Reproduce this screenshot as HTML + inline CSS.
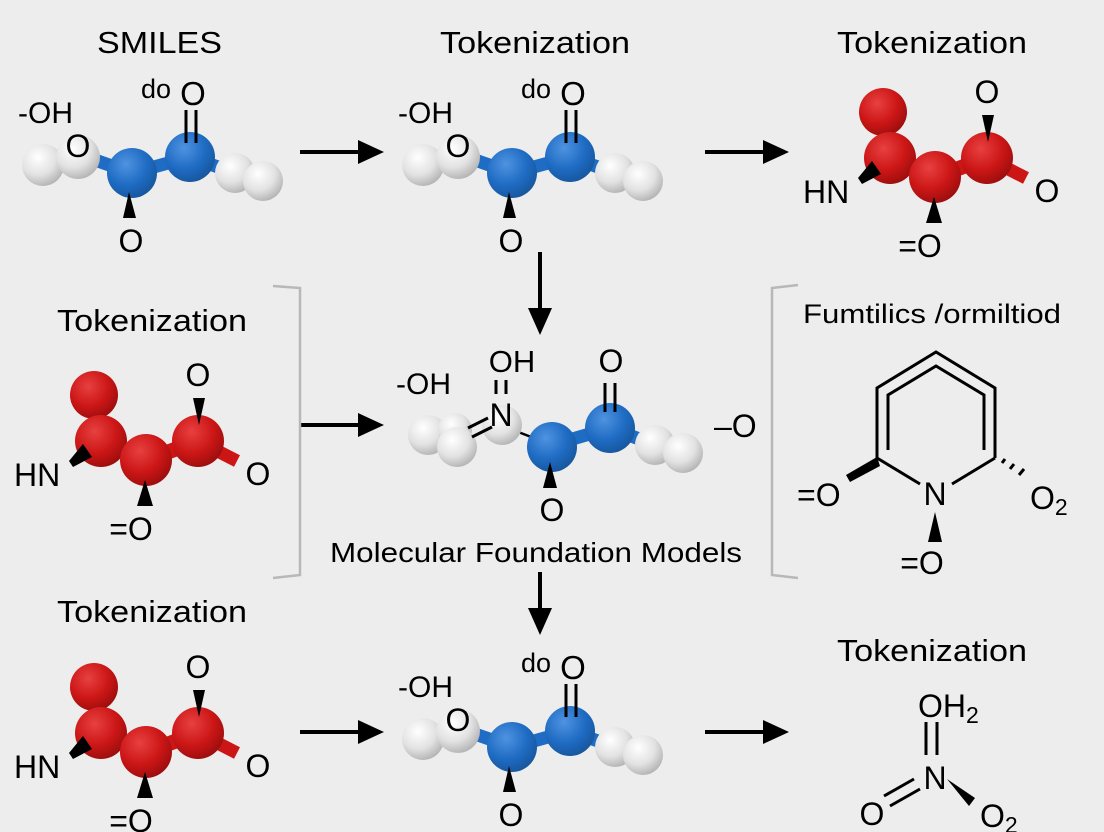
<!DOCTYPE html>
<html><head><meta charset="utf-8"><style>
html,body{margin:0;padding:0;background:#ededed;}
svg{display:block;}
text{font-family:"Liberation Sans",sans-serif;fill:#000;}
</style></head><body>
<svg width="1104" height="832" viewBox="0 0 1104 832" xmlns="http://www.w3.org/2000/svg">
<defs>
<radialGradient id="gb" cx="0.38" cy="0.32" r="0.7"><stop offset="0" stop-color="#4f93e0"/><stop offset="0.6" stop-color="#1f6cc4"/><stop offset="1" stop-color="#17579f"/></radialGradient>
<radialGradient id="gw" cx="0.38" cy="0.32" r="0.7"><stop offset="0" stop-color="#ffffff"/><stop offset="0.6" stop-color="#e2e2e2"/><stop offset="1" stop-color="#b5b5b5"/></radialGradient>
<radialGradient id="gr" cx="0.38" cy="0.32" r="0.7"><stop offset="0" stop-color="#e84040"/><stop offset="0.6" stop-color="#cc1616"/><stop offset="1" stop-color="#9e0e0e"/></radialGradient>
<g id="blue">
  <line x1="95" y1="160" x2="132" y2="173" stroke="#1f6cc4" stroke-width="13"/>
  <line x1="132" y1="173" x2="190" y2="157" stroke="#1f6cc4" stroke-width="13"/>
  <line x1="190" y1="157" x2="232" y2="172" stroke="#1f6cc4" stroke-width="13"/>
  <circle cx="43" cy="165" r="21" fill="url(#gw)"/>
  <circle cx="78" cy="157" r="22" fill="url(#gw)"/>
  <circle cx="132" cy="173" r="25" fill="url(#gb)"/>
  <circle cx="190" cy="157" r="25" fill="url(#gb)"/>
  <circle cx="235" cy="173" r="20" fill="url(#gw)"/>
  <circle cx="263" cy="181" r="20" fill="url(#gw)"/>
  <text x="78" y="157" font-size="32" text-anchor="middle">O</text>
  <polygon points="129,192 123,218 136,218" fill="#000"/>
  <text x="131" y="252" font-size="32" text-anchor="middle">O</text>
  <line x1="186" y1="110" x2="186" y2="143" stroke="#000" stroke-width="3"/>
  <line x1="196" y1="110" x2="196" y2="143" stroke="#000" stroke-width="3"/>
  <text x="141" y="98" font-size="27">do</text>
  <text x="193" y="105" font-size="33" text-anchor="middle">O</text>
  <text x="18" y="123" font-size="30">-OH</text>
</g>
<g id="red">
  <line x1="935" y1="177" x2="987" y2="158" stroke="#cc1616" stroke-width="15"/>
  <line x1="987" y1="158" x2="1026" y2="178" stroke="#cc1616" stroke-width="13"/>
  <circle cx="883" cy="112" r="24" fill="url(#gr)"/>
  <circle cx="890" cy="158" r="26" fill="url(#gr)"/>
  <circle cx="935" cy="177" r="26" fill="url(#gr)"/>
  <circle cx="987" cy="158" r="26" fill="url(#gr)"/>
  <polygon points="872,161 881,174 862,184 858,178" fill="#000"/>
  <text x="803" y="203" font-size="32">HN</text>
  <polygon points="982,115 994,115 988,142" fill="#000"/>
  <text x="987" y="103" font-size="32" text-anchor="middle">O</text>
  <polygon points="934,197 926,223 942,223" fill="#000"/>
  <text x="920" y="257" font-size="32" text-anchor="middle">=O</text>
  <text x="1047" y="202" font-size="32" text-anchor="middle">O</text>
</g>
</defs>

<!-- titles -->
<text x="97" y="53" font-size="31" textLength="125" lengthAdjust="spacingAndGlyphs">SMILES</text>
<text x="440" y="53" font-size="31" textLength="190" lengthAdjust="spacingAndGlyphs">Tokenization</text>
<text x="837" y="53" font-size="31" textLength="190" lengthAdjust="spacingAndGlyphs">Tokenization</text>
<text x="57" y="331" font-size="31" textLength="190" lengthAdjust="spacingAndGlyphs">Tokenization</text>
<text x="57" y="622" font-size="31" textLength="190" lengthAdjust="spacingAndGlyphs">Tokenization</text>
<text x="837" y="661" font-size="31" textLength="190" lengthAdjust="spacingAndGlyphs">Tokenization</text>
<text x="803" y="323" font-size="27" textLength="258" lengthAdjust="spacingAndGlyphs">Fumtilics /ormiltiod</text>
<text x="330" y="562" font-size="28" textLength="412" lengthAdjust="spacingAndGlyphs">Molecular Foundation Models</text>

<!-- molecules -->
<use href="#blue"/>
<use href="#blue" transform="translate(380,0)"/>
<use href="#blue" transform="translate(380,574)"/>
<use href="#red"/>
<use href="#red" transform="translate(-789,283)"/>
<use href="#red" transform="translate(-789,575)"/>

<!-- middle molecule -->
<g>
  <line x1="500" y1="425" x2="552" y2="445" stroke="#000" stroke-width="2.5"/>
  <line x1="552" y1="445" x2="610" y2="428" stroke="#1f6cc4" stroke-width="13"/>
  <line x1="610" y1="428" x2="650" y2="443" stroke="#1f6cc4" stroke-width="13"/>
  <circle cx="428" cy="435" r="20" fill="url(#gw)"/>
  <circle cx="455" cy="430" r="17" fill="url(#gw)"/>
  <circle cx="457" cy="447" r="20" fill="url(#gw)"/>
  <circle cx="502" cy="425" r="20" fill="url(#gw)"/>
  <circle cx="552" cy="447" r="25" fill="url(#gb)"/>
  <circle cx="610" cy="428" r="25" fill="url(#gb)"/>
  <circle cx="655" cy="445" r="20" fill="url(#gw)"/>
  <circle cx="683" cy="453" r="20" fill="url(#gw)"/>
  <line x1="468" y1="428" x2="488" y2="418" stroke="#000" stroke-width="3"/>
  <line x1="472" y1="437" x2="492" y2="427" stroke="#000" stroke-width="3"/>
  <text x="501" y="426" font-size="32" text-anchor="middle">N</text>
  <line x1="496" y1="380" x2="496" y2="394" stroke="#000" stroke-width="3"/>
  <line x1="506" y1="380" x2="506" y2="394" stroke="#000" stroke-width="3"/>
  <text x="512" y="372" font-size="31" text-anchor="middle">OH</text>
  <text x="396" y="394" font-size="30">-OH</text>
  <line x1="605" y1="383" x2="605" y2="412" stroke="#000" stroke-width="3"/>
  <line x1="615" y1="383" x2="615" y2="412" stroke="#000" stroke-width="3"/>
  <text x="611" y="372" font-size="32" text-anchor="middle">O</text>
  <polygon points="550,462 543,488 557,488" fill="#000"/>
  <text x="552" y="521" font-size="32" text-anchor="middle">O</text>
  <text x="714" y="437" font-size="32">–O</text>
</g>

<!-- pyridine -->
<g stroke="#000" stroke-width="3" fill="none">
  <polyline points="877,458 877,388 936,352 995,388 995,458"/>
  <polyline points="888,450 888,395 936,366 984,395 984,450"/>
  <line x1="877" y1="458" x2="920" y2="484"/>
  <line x1="995" y1="458" x2="952" y2="484"/>
</g>
<polygon points="877,457 880,466 850,482 846,475" fill="#000"/>
<g stroke="#000" stroke-width="3">
  <line x1="1002" y1="463" x2="1005" y2="459"/>
  <line x1="1010" y1="469" x2="1014" y2="464"/>
  <line x1="1019" y1="475" x2="1024" y2="469"/>
</g>
<text x="935" y="505" font-size="32" text-anchor="middle">N</text>
<text x="797" y="506" font-size="32">=O</text>
<text x="1030" y="509" font-size="32">O<tspan font-size="23" dy="6">2</tspan></text>
<polygon points="935,512 928,542 942,542" fill="#000"/>
<text x="922" y="574" font-size="32" text-anchor="middle">=O</text>

<!-- nitro -->
<text x="918" y="717" font-size="32">OH<tspan font-size="23" dy="6">2</tspan></text>
<line x1="926" y1="722" x2="926" y2="755" stroke="#000" stroke-width="3"/>
<line x1="937" y1="722" x2="937" y2="755" stroke="#000" stroke-width="3"/>
<text x="935" y="789" font-size="32" text-anchor="middle">N</text>
<line x1="884" y1="796" x2="914" y2="779" stroke="#000" stroke-width="3"/>
<line x1="890" y1="806" x2="920" y2="789" stroke="#000" stroke-width="3"/>
<text x="872" y="825" font-size="32" text-anchor="middle">O</text>
<polygon points="947,779 975,798 969,806" fill="#000"/>
<text x="980" y="827" font-size="32">O<tspan font-size="23" dy="6">2</tspan></text>

<!-- arrows -->
<g stroke="#000" stroke-width="4">
  <line x1="300" y1="152" x2="362" y2="152"/>
  <line x1="705" y1="152" x2="767" y2="152"/>
  <line x1="300" y1="425" x2="362" y2="425"/>
  <line x1="300" y1="732" x2="362" y2="732"/>
  <line x1="705" y1="732" x2="767" y2="732"/>
  <line x1="540" y1="252" x2="540" y2="312"/>
  <line x1="540" y1="572" x2="540" y2="612"/>
</g>
<g fill="#000">
  <polygon points="358,140 384,152 358,164"/>
  <polygon points="763,140 789,152 763,164"/>
  <polygon points="358,413 384,425 358,437"/>
  <polygon points="358,720 384,732 358,744"/>
  <polygon points="763,720 789,732 763,744"/>
  <polygon points="528,308 552,308 540,335"/>
  <polygon points="528,608 552,608 540,635"/>
</g>

<!-- brackets -->
<polyline points="273,286 300,288 300,575 273,578" fill="none" stroke="#b8b8b8" stroke-width="2.5"/>
<polyline points="798,285 772,288 772,575 798,578" fill="none" stroke="#b8b8b8" stroke-width="2.5"/>
</svg>
</body></html>
